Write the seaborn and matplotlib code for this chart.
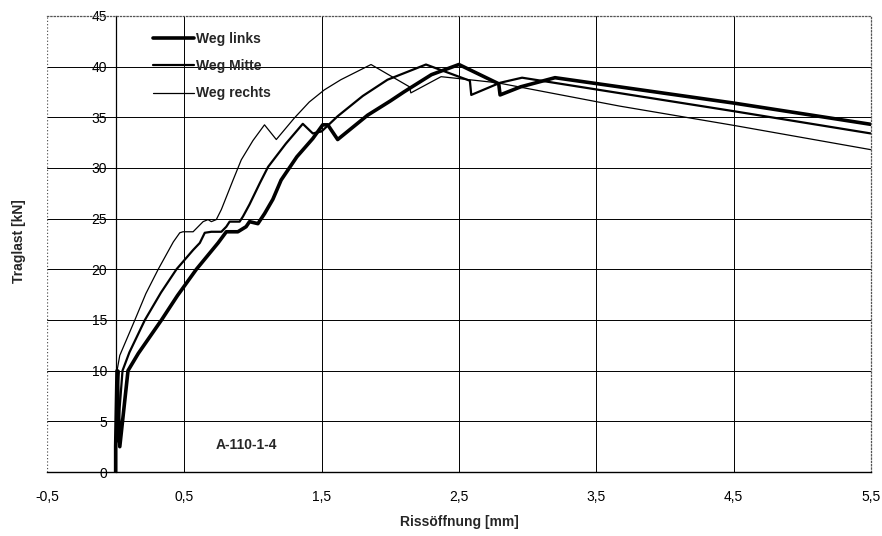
import pandas as pd
import seaborn as sns
import matplotlib.pyplot as plt

# curves: crack opening [mm] vs. load [kN]
links_x = [0, 0.0, 0.01, 0.03, 0.09, 0.165, 0.334, 0.45, 0.588, 0.746, 0.806, 0.89, 0.95, 0.975,
           1.036, 1.085, 1.145, 1.205, 1.32, 1.436, 1.508, 1.545, 1.617, 1.835, 2.0, 2.1, 2.3, 2.5,
           2.79, 2.8, 2.95, 3.2, 4.5, 5.5]
links_y = [0, 2.5, 10, 2.5, 10, 11.7, 15, 17.4, 20, 22.6, 23.7, 23.7, 24.2, 24.7,
           24.5, 25.5, 26.9, 28.8, 31.1, 32.9, 34.25, 34.25, 32.8, 35.2, 36.6, 37.5, 39.2, 40.2,
           38.3, 37.2, 38.0, 38.9, 36.4, 34.3]

mitte_x = [0, 0.0, 0.02, 0.01, 0.05, 0.1, 0.213, 0.33, 0.443, 0.564, 0.613, 0.649, 0.697, 0.77,
           0.806, 0.83, 0.903, 0.927, 0.975, 1.05, 1.11, 1.24, 1.363, 1.436, 1.5, 1.617, 1.8,
           1.98, 2.26, 2.58, 2.59, 2.8, 2.96, 4.5, 5.5]
mitte_y = [0, 2.5, 10, 3, 10, 11.8, 15, 17.7, 20, 21.9, 22.6, 23.6, 23.7, 23.7,
           24.2, 24.7, 24.7, 25.2, 26.4, 28.5, 30.1, 32.4, 34.35, 33.4, 33.6, 35.1, 37.1,
           38.7, 40.2, 38.6, 37.2, 38.4, 38.9, 35.6, 33.4]

rechts_x = [0, 0.0, 0.01, 0.03, 0.14, 0.22, 0.31, 0.42, 0.467, 0.49, 0.564, 0.637, 0.673, 0.697,
            0.733, 0.77, 0.855, 0.915, 1.0, 1.084, 1.17, 1.3, 1.41, 1.52, 1.64, 1.86, 2.14, 2.15,
            2.37, 2.44, 2.78, 3.67, 4.5, 5.5]
rechts_y = [0, 2.5, 10, 11.5, 15, 17.6, 20, 22.7, 23.6, 23.7, 23.7, 24.7, 24.9, 24.7,
            24.9, 25.9, 28.8, 30.8, 32.7, 34.25, 32.8, 34.9, 36.5, 37.7, 38.7, 40.2, 38.0, 37.4,
            39.0, 38.9, 38.4, 36.1, 34.2, 31.8]

series_names = ['Weg links', 'Weg Mitte', 'Weg rechts']
x_ticks = [-0.5, 0.5, 1.5, 2.5, 3.5, 4.5, 5.5]
y_ticks = [0, 5, 10, 15, 20, 25, 30, 35, 40, 45]


def to_frame(x, y, name):
    return pd.DataFrame({'x': x, 'y': y, 'series': name})


def comma(v):
    return ('%g' % v).replace('.', ',')


sns.set_style('white')
plt.rcParams['font.family'] = ['Liberation Sans', 'DejaVu Sans']

fig = plt.figure(figsize=(8.82, 5.36), dpi=100)
ax = fig.add_axes([0.0533, 0.1194, 0.934, 0.851])

widths = [2.6, 1.6, 0.9]
for (xs, ys), name, lw in zip([(links_x, links_y), (mitte_x, mitte_y), (rechts_x, rechts_y)],
                              series_names, widths):
    sns.lineplot(data=to_frame(xs, ys, name), x='x', y='y', sort=False, estimator=None,
                 color='black', linewidth=lw, label=name, ax=ax)

ax.set_xlim(-0.5, 5.5)
ax.set_ylim(0, 45)
ax.set_xticks(x_ticks)
ax.set_xticklabels([comma(v) for v in x_ticks], fontsize=10)
ax.set_yticks(y_ticks)
ax.set_yticklabels([str(v) for v in y_ticks], fontsize=10)

for v in x_ticks[1:-1]:
    ax.axvline(v, color='black', lw=0.7, zorder=0)
for v in y_ticks[1:-1]:
    ax.axhline(v, color='black', lw=0.7, zorder=0)

ax.spines['left'].set_position(('data', 0))
ax.spines['left'].set_color('black')
ax.spines['left'].set_linewidth(0.9)
ax.spines['bottom'].set_color('black')
ax.spines['bottom'].set_linewidth(1.0)
for s in ['top', 'right']:
    ax.spines[s].set_linestyle(':')
    ax.spines[s].set_color('#555555')
    ax.spines[s].set_linewidth(0.9)
ax.axvline(-0.5, color='#555555', lw=0.9, ls=':')

ax.tick_params(axis='y', direction='out', length=4, width=0.8, pad=2, colors='black')
ax.tick_params(axis='x', direction='out', length=0, pad=13, colors='black')

ax.set_xlabel('Rissöffnung [mm]', fontsize=10, fontweight='bold', labelpad=8)
ax.set_ylabel('', fontsize=10)
fig.text(0.022, 0.55, 'Traglast [kN]', rotation=90, fontsize=10, fontweight='bold',
         ha='center', va='center')

ax.text(0.95, 2.7, 'A-110-1-4', fontsize=10, fontweight='bold', ha='center', va='center')

leg = ax.legend(loc='upper left', bbox_to_anchor=(0.113, 0.992), frameon=False,
                handlelength=3.0, handletextpad=0.15, labelspacing=0.95,
                prop={'size': 10, 'weight': 'bold'})

fig.savefig('out.png', dpi=100)
